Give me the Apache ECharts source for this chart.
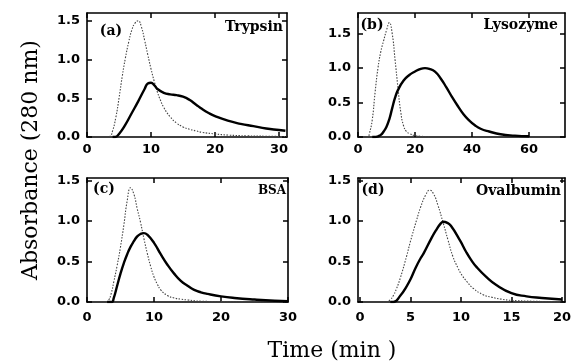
<!DOCTYPE html>
<html>
<head>
<meta charset="utf-8">
<script src="https://cdn.jsdelivr.net/npm/echarts@6/dist/echarts.min.js"></script>
<style>html,body{margin:0;padding:0;background:#fff}#c{width:575px;height:361px}</style>
</head>
<body>
<div id="c"></div>
<script>
// ---- Data ----
// (a) Trypsin
const trypsinDotX = [3, 3.6, 4, 4.5, 5, 5.5, 6, 6.5, 7, 7.5, 8, 8.5, 9, 9.5, 10, 10.5, 11, 11.5, 12, 13, 14, 15, 16, 17, 18, 20, 22, 25, 28, 31.25];
const trypsinDotY = [0, 0.01, 0.08, 0.25, 0.5, 0.78, 1.02, 1.22, 1.38, 1.47, 1.5, 1.42, 1.25, 1.06, 0.88, 0.72, 0.58, 0.47, 0.38, 0.26, 0.18, 0.13, 0.1, 0.08, 0.06, 0.04, 0.025, 0.015, 0.01, 0.005];
const trypsinSolX = [4, 4.4, 5, 6, 7, 8, 9, 9.5, 10, 10.5, 11, 12, 13, 14, 15, 16, 17, 18, 19, 20, 22, 24, 26, 28, 30, 31];
const trypsinSolY = [0, 0, 0.04, 0.16, 0.31, 0.46, 0.62, 0.69, 0.7, 0.67, 0.62, 0.57, 0.55, 0.54, 0.52, 0.48, 0.42, 0.36, 0.31, 0.27, 0.21, 0.17, 0.14, 0.11, 0.09, 0.08];
// (b) Lysozyme
const lysoDotX = [3, 3.5, 4, 5, 6, 7, 8, 9, 10, 11, 12, 13, 14, 15, 16, 17, 18, 20, 22, 25];
const lysoDotY = [0, 0, 0.05, 0.25, 0.65, 1.0, 1.24, 1.4, 1.55, 1.66, 1.5, 1.12, 0.72, 0.36, 0.16, 0.08, 0.05, 0.02, 0.01, 0];
const lysoSolX = [5, 6, 7, 8, 9, 10, 11, 12, 13, 14, 16, 18, 20, 22, 23.5, 25, 27, 29, 31, 33, 35, 37, 39, 41, 43, 46, 50, 55, 60];
const lysoSolY = [0, 0, 0.01, 0.03, 0.08, 0.15, 0.26, 0.42, 0.57, 0.68, 0.82, 0.9, 0.95, 0.99, 1.0, 0.99, 0.95, 0.85, 0.72, 0.58, 0.45, 0.33, 0.24, 0.17, 0.12, 0.08, 0.04, 0.02, 0.01];
// (c) BSA
const bsaDotX = [2, 2.8, 3.2, 3.6, 4, 4.5, 5, 5.5, 6, 6.5, 7, 7.5, 8, 8.5, 9, 9.5, 10, 10.5, 11, 12, 13, 14, 15, 17, 20, 25, 30];
const bsaDotY = [0, 0, 0.02, 0.1, 0.25, 0.45, 0.68, 0.95, 1.25, 1.41, 1.33, 1.15, 0.98, 0.78, 0.6, 0.44, 0.31, 0.22, 0.15, 0.08, 0.05, 0.035, 0.025, 0.01, 0.005, 0, 0];
const bsaSolX = [3, 3.7, 4, 4.5, 5, 5.5, 6, 6.5, 7, 7.5, 8, 8.5, 9, 10, 11, 12, 13, 14, 15, 16, 17, 18, 20, 22, 25, 28, 30];
const bsaSolY = [0, 0, 0.05, 0.2, 0.35, 0.48, 0.59, 0.68, 0.75, 0.81, 0.84, 0.85, 0.83, 0.73, 0.59, 0.46, 0.35, 0.26, 0.2, 0.15, 0.12, 0.1, 0.07, 0.05, 0.03, 0.015, 0.01];
// (d) Ovalbumin
const ovaDotX = [2, 2.6, 3, 3.3, 3.6, 4, 4.6, 5, 5.6, 6, 6.5, 6.9, 7.3, 7.7, 8.25, 8.7, 9.2, 9.7, 10.1, 10.6, 11.2, 12.2, 13, 14, 15, 17, 20];
const ovaDotY = [0, 0, 0.03, 0.08, 0.16, 0.3, 0.56, 0.75, 1.01, 1.17, 1.32, 1.38, 1.33, 1.2, 0.97, 0.77, 0.56, 0.42, 0.33, 0.25, 0.17, 0.09, 0.06, 0.035, 0.02, 0.01, 0];
const ovaSolX = [3, 3.3, 4, 4.6, 5, 5.5, 6, 6.3, 7, 7.5, 8, 8.25, 8.6, 9, 9.9, 10.5, 11, 11.55, 12.5, 13.5, 15, 16.5, 18, 20];
const ovaSolY = [0, 0, 0.08, 0.19, 0.28, 0.42, 0.54, 0.6, 0.77, 0.88, 0.97, 0.99, 0.98, 0.94, 0.76, 0.62, 0.52, 0.43, 0.31, 0.21, 0.11, 0.07, 0.05, 0.03];

// Tick labels
const xTicksA = [0, 10, 20, 30];
const xTicksB = [0, 20, 40, 60];
const xTicksC = [0, 10, 20, 30];
const xTicksD = [0, 5, 10, 15, 20];
const yTicks = [0, 0.5, 1.0, 1.5];
const panelTags = ['(a)', '(b)', '(c)', '(d)'];
const proteinNames = ['Trypsin', 'Lysozyme', 'BSA', 'Ovalbumin'];
const yTitle = 'Absorbance (280 nm)';
const xTitle = 'Time (min )';

const zip = (xs, ys) => xs.map((x, i) => [x, ys[i]]);

const panels = [
  {grid:{left:87, top:13, width:200, height:124}, xmin:0, xmax:31.25, ymax:1.6, xt:xTicksA, xm:6,
   dot:zip(trypsinDotX, trypsinDotY), sol:zip(trypsinSolX, trypsinSolY)},
  {grid:{left:358, top:13, width:207, height:124}, xmin:0, xmax:72.6, ymax:1.8, xt:xTicksB, xm:6,
   dot:zip(lysoDotX, lysoDotY), sol:zip(lysoSolX, lysoSolY)},
  {grid:{left:87, top:178, width:201, height:124}, xmin:0, xmax:30, ymax:1.53, xt:xTicksC, xm:9,
   dot:zip(bsaDotX, bsaDotY), sol:zip(bsaSolX, bsaSolY)},
  {grid:{left:358, top:178, width:207, height:124}, xmin:-0.2, xmax:20.3, ymax:1.53, xt:xTicksD, xm:9,
   dot:zip(ovaDotX, ovaDotY), sol:zip(ovaSolX, ovaSolY)}
];

const grids = [], xAxes = [], yAxes = [], series = [];
const lineCommon = {onZero:false, lineStyle:{color:'#000', width:1.6}};
const tickCommon = {inside:true, length:5, lineStyle:{color:'#000', width:1.5}};
const tickFont = {fontFamily:'DejaVu Sans', fontWeight:'bold', fontSize:13, color:'#000'};

panels.forEach((p, i) => {
  grids.push(Object.assign({containLabel:false}, p.grid));
  xAxes.push({type:'value', gridIndex:i, position:'bottom', min:p.xmin, max:p.xmax,
    splitLine:{show:false}, axisLine:lineCommon,
    axisTick:Object.assign({customValues:p.xt}, tickCommon),
    axisLabel:Object.assign({margin:p.xm, customValues:p.xt}, tickFont)});
  xAxes.push({type:'value', gridIndex:i, position:'top', min:p.xmin, max:p.xmax,
    splitLine:{show:false}, axisLine:lineCommon,
    axisTick:Object.assign({customValues:p.xt}, tickCommon),
    axisLabel:{show:false}});
  yAxes.push({type:'value', gridIndex:i, position:'left', min:0, max:p.ymax,
    splitLine:{show:false}, axisLine:lineCommon,
    axisTick:Object.assign({customValues:yTicks}, tickCommon),
    axisLabel:Object.assign({margin:7, customValues:yTicks, formatter:v => v.toFixed(1)}, tickFont)});
  yAxes.push({type:'value', gridIndex:i, position:'right', min:0, max:p.ymax,
    splitLine:{show:false}, axisLine:lineCommon,
    axisTick:Object.assign({customValues:yTicks}, tickCommon),
    axisLabel:{show:false}});
  series.push({type:'line', xAxisIndex:2*i, yAxisIndex:2*i, data:p.dot, showSymbol:false,
    smooth:0.5, clip:true, silent:true,
    lineStyle:{color:'#444', width:1.1, type:[1.5, 1.5]}, z:2});
  series.push({type:'line', xAxisIndex:2*i, yAxisIndex:2*i, data:p.sol, showSymbol:false,
    smooth:0.5, clip:true, silent:true,
    lineStyle:{color:'#000', width:2.4}, z:3});
});

const tagFont = 'bold 14px "DejaVu Serif"';
const tagPos = [[111, 31], [372, 25], [104, 189], [373, 190]];
const namePos = [[283, 27], [558, 25], [286, 191], [561, 191]];
const graphic = [];
panelTags.forEach((t, i) => {
  graphic.push({type:'text', x:tagPos[i][0], y:tagPos[i][1], style:{text:t, font:tagFont, fill:'#000', textAlign:'center', textVerticalAlign:'middle'}});
  graphic.push({type:'text', x:namePos[i][0], y:namePos[i][1], style:{text:proteinNames[i], font:(i===2?'bold 12px "DejaVu Serif"':tagFont), fill:'#000', textAlign:'right', textVerticalAlign:'middle'}});
});
graphic.push({type:'text', x:31, y:160, rotation:Math.PI/2, style:{text:yTitle, font:'22px "DejaVu Serif"', fill:'#000', textAlign:'center', textVerticalAlign:'middle'}});
graphic.push({type:'text', x:332, y:351, style:{text:xTitle, font:'22px "DejaVu Serif"', fill:'#000', textAlign:'center', textVerticalAlign:'middle'}});

const chart = echarts.init(document.getElementById('c'), null, {renderer:'canvas'});
chart.setOption({animation:false, backgroundColor:'#fff', grid:grids, xAxis:xAxes, yAxis:yAxes, series:series, graphic:graphic});
</script>
</body>
</html>
